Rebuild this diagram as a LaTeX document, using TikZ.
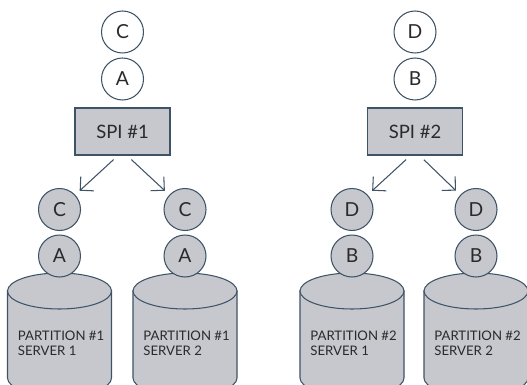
\documentclass[tikz,border=0pt]{standalone}
\usepackage{fontspec}
\setmainfont{Lato}
\usetikzlibrary{arrows.meta}
\definecolor{edge}{HTML}{3F5366}
\definecolor{shade}{HTML}{C6C8CE}
\definecolor{ink}{HTML}{2A2A2A}
\begin{document}
\begin{tikzpicture}[x=0.02cm, y=-0.02cm,
  token/.style={circle, draw=edge, line width=0.6pt, minimum size=0.84cm,
    inner sep=0pt, text=ink, font=\fontsize{11}{11}\selectfont},
  spibox/.style={rectangle, draw=edge, fill=shade, line width=0.6pt,
    minimum width=1.9cm, minimum height=0.94cm, text=ink,
    font=\fontsize{10.5}{10.5}\selectfont},
  disk/.style={draw=edge, fill=shade, line width=0.6pt},
  disklabel/.style={anchor=west, align=left, inner sep=0pt, text=ink,
    font=\fontsize{7.5}{8.6}\selectfont},
  link/.style={draw=edge, line width=0.6pt, shorten <=0.12cm, shorten >=0.12cm,
    -{Straight Barb[length=5.5pt, width=11pt]}}]
  \useasboundingbox (0,0) rectangle (527,385);
  \clip (0,0) rectangle (527,385);
  % Disks
  \foreach \cx/\p/\s in {59.5/1/1, 185/1/2, 352/2/1, 476/2/2} {
    \filldraw[disk] (\cx-52,291) -- (\cx-52,378)
      arc[start angle=180, end angle=0, x radius=52, y radius=18]
      -- (\cx+52,291) -- cycle;
    \filldraw[disk] (\cx,291) ellipse [x radius=52, y radius=18];
    \node[disklabel] (part\p s\s) at (\cx-42,343) {PARTITION \#\p\\SERVER \s};
  }
  % Balancers with their incoming and outgoing keys
  \foreach \g/\x/\hi/\lo/\l/\r in {1/122.5/C/A/59.5/185, 2/415/D/B/352/476} {
    \node[token, fill=white] (in\g a) at (\x,32) {\hi};
    \node[token, fill=white] (in\g b) at (\x,79) {\lo};
    \node[spibox] (spi\g) at (\x,131.5) {SPI \#\g};
    \node[token, fill=shade] (left\g a) at (\l,209.5) {\hi};
    \node[token, fill=shade] (left\g b) at (\l,256) {\lo};
    \node[token, fill=shade] (right\g a) at (\r,209.5) {\hi};
    \node[token, fill=shade] (right\g b) at (\r,256) {\lo};
    \draw[link] ([xshift=-0.09cm]spi\g.south) -- (left\g a.43);
    \draw[link] ([xshift=0.09cm]spi\g.south) -- (right\g a.137);
  }
\end{tikzpicture}
\end{document}
